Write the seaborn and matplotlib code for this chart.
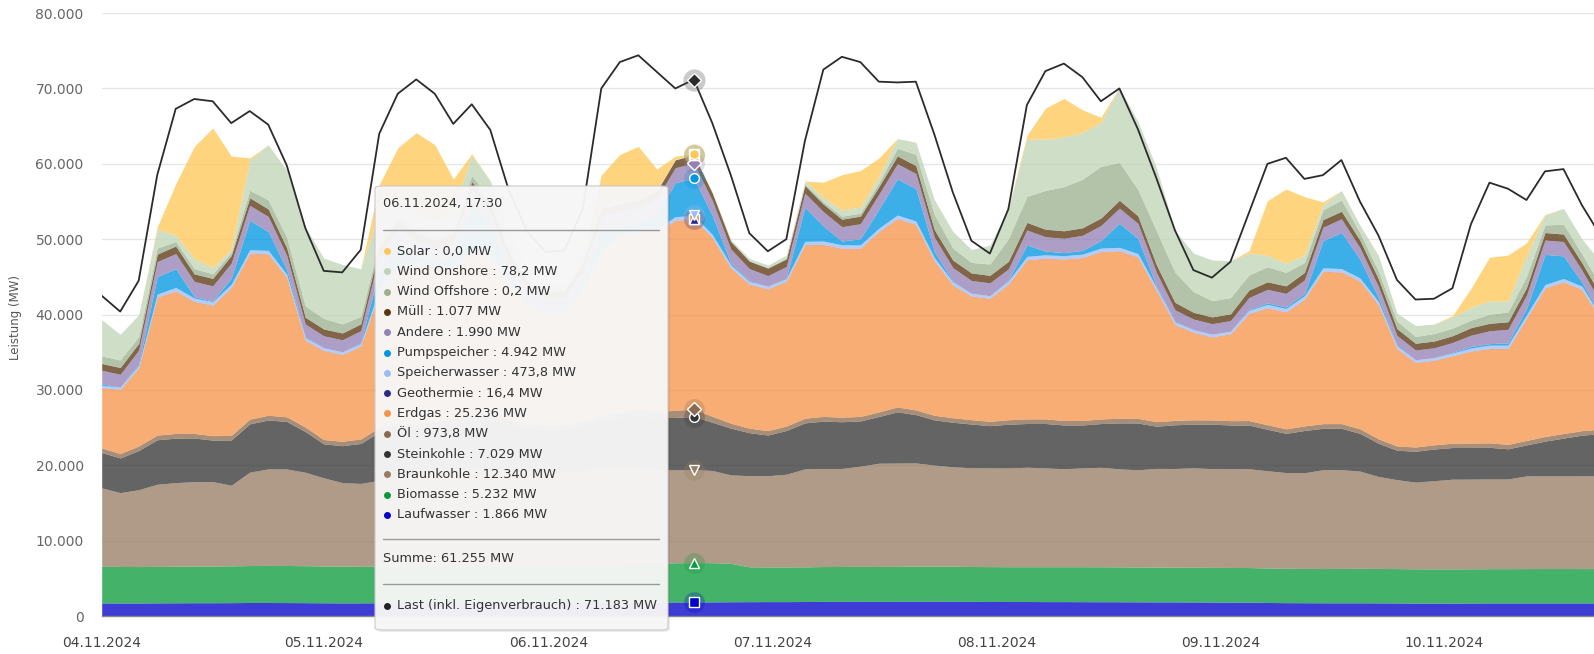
"""
Stromerzeugung und Last, 04.11.2024 - 10.11.2024 (gestapelte Flaechen + Lastkurve)
"""
import numpy as np
import pandas as pd
import matplotlib
matplotlib.use("Agg")
import matplotlib.pyplot as plt
import seaborn as sns
from matplotlib.patches import FancyBboxPatch
from matplotlib.lines import Line2D

sns.set_theme(style="white")
plt.rcParams['font.family'] = ['DejaVu Sans']

# Stunden seit 04.11.2024 00:00 (2h-Raster)
hours = list(range(2, 165, 2))

# Werte in 1.000 MW (GW), von unten nach oben gestapelt
laufwasser = [1.74, 1.73, 1.73, 1.75, 1.76, 1.77, 1.77, 1.78, 1.80, 1.80, 1.79, 1.78, 1.76, 1.75, 1.75,
              1.77, 1.78, 1.79, 1.80, 1.81, 1.82, 1.82, 1.80, 1.79, 1.78, 1.78, 1.80, 1.82, 1.84, 1.85,
              1.86, 1.87, 1.8664, 1.88, 1.90,
              1.91, 1.92, 1.92, 1.93, 1.95, 1.96, 1.96, 1.95, 1.96, 1.97, 1.98, 1.97, 1.95, 1.94,
              1.93, 1.93, 1.92, 1.92, 1.91, 1.90, 1.90, 1.89, 1.88, 1.88, 1.87, 1.86, 1.85, 1.84,
              1.80, 1.78, 1.77, 1.76, 1.76, 1.76, 1.75, 1.74, 1.72, 1.72, 1.72, 1.73, 1.74, 1.74,
              1.74, 1.74, 1.74, 1.74, 1.74]
biomasse = [4.86, 4.85, 4.84, 4.84, 4.85, 4.86, 4.87, 4.88, 4.90, 4.92, 4.92, 4.90, 4.88, 4.86, 4.85,
            4.85, 4.86, 4.87, 4.88, 4.90, 4.92, 4.93, 4.92, 4.90, 4.88, 4.87, 4.88, 4.90, 4.95, 5.05,
            5.15, 5.20, 5.232, 5.20, 5.10,
            4.62, 4.60, 4.60, 4.60, 4.62, 4.62, 4.63, 4.63, 4.64, 4.65, 4.65, 4.64, 4.63, 4.62,
            4.62, 4.62, 4.63, 4.63, 4.64, 4.64, 4.63, 4.62, 4.61, 4.60, 4.60, 4.60, 4.60, 4.60,
            4.58, 4.56, 4.55, 4.55, 4.56, 4.57, 4.57, 4.56, 4.55, 4.54, 4.54, 4.54, 4.55, 4.55,
            4.56, 4.57, 4.57, 4.56, 4.56]
braunkohle = [10.4, 9.8, 10.2, 10.9, 11.1, 11.2, 11.2, 10.7, 12.4, 12.8, 12.8, 12.4, 11.7, 11.1, 11.0,
              11.4, 11.9, 12.2, 12.4, 12.6, 12.8, 12.8, 12.7, 12.4, 12.4, 12.4, 12.6, 12.9, 13.0, 13.0,
              12.43, 12.33, 12.34, 12.23, 11.73,
              12.1, 12.1, 12.3, 13.0, 13.0, 13.0, 13.3, 13.7, 13.7, 13.7, 13.4, 13.2, 13.1, 13.1,
              13.1, 13.2, 13.1, 13.0, 13.1, 13.2, 13.0, 12.9, 13.1, 13.1, 13.2, 13.1, 13.1, 13.1,
              12.9, 12.7, 12.7, 13.1, 13.1, 12.9, 12.2, 11.8, 11.5, 11.7, 11.9, 11.9, 11.9, 11.9,
              12.3, 12.3, 12.3, 12.3, 12.3]
steinkohle = [4.7, 4.6, 5.2, 5.9, 5.9, 5.8, 5.5, 6.0, 6.4, 6.5, 6.3, 5.4, 4.5, 4.9, 5.3,
              6.4, 6.4, 6.1, 6.2, 6.2, 6.5, 6.5, 6.1, 5.9, 5.7, 5.7, 6.0, 6.4, 6.6, 6.8,
              6.9, 6.95, 7.029, 6.4, 6.2,
              5.7, 5.4, 5.8, 6.1, 6.3, 6.2, 6.0, 6.2, 6.8, 6.4, 6.0, 5.9, 5.8, 5.6,
              5.8, 5.8, 5.9, 5.8, 5.7, 5.8, 6.1, 6.2, 5.6, 5.8, 5.8, 5.9, 5.8, 5.8,
              5.5, 5.2, 5.6, 5.5, 5.5, 5.0, 4.4, 3.9, 4.1, 4.2, 4.2, 4.2, 4.2, 4.0,
              4.1, 4.6, 5.0, 5.4, 5.6]
oel = [0.60, 0.58, 0.60, 0.62, 0.62, 0.60, 0.60, 0.61, 0.63, 0.63, 0.62, 0.60, 0.58, 0.58, 0.60,
       0.62, 0.62, 0.61, 0.60, 0.61, 0.63, 0.63, 0.62, 0.60, 0.58, 0.58, 0.60, 0.62, 0.64, 0.70,
       0.80, 0.95, 0.9738, 0.80, 0.65,
       0.60, 0.58, 0.60, 0.62, 0.62, 0.61, 0.60, 0.62, 0.64, 0.63, 0.61, 0.60, 0.58, 0.58,
       0.60, 0.61, 0.61, 0.60, 0.60, 0.61, 0.62, 0.62, 0.60, 0.58, 0.57, 0.57, 0.58, 0.60,
       0.60, 0.60, 0.61, 0.62, 0.62, 0.61, 0.59, 0.57, 0.56, 0.56, 0.57, 0.58, 0.59, 0.59,
       0.60, 0.61, 0.61, 0.60, 0.59]
erdgas = [8.0, 8.5, 10.4, 18.3, 18.9, 17.5, 17.3, 19.6, 22.0, 21.4, 18.5, 11.5, 11.8, 11.5, 12.3,
          18.0, 20.5, 21.0, 20.2, 20.0, 21.5, 21.0, 18.0, 15.5, 14.7, 14.7, 17.2, 21.5, 23.2, 23.5,
          23.8, 25.2, 25.236, 23.7, 20.6,
          19.1, 18.8, 19.2, 23.0, 22.8, 22.4, 22.3, 23.9, 25.0, 24.6, 20.5, 17.6, 16.4, 16.3,
          18.0, 21.1, 21.3, 21.4, 21.6, 22.2, 22.2, 21.4, 17.4, 12.7, 11.6, 11.0, 11.5, 14.2,
          15.5, 15.5, 16.8, 20.2, 20.1, 19.6, 17.8, 12.9, 11.2, 11.2, 11.6, 12.2, 12.5, 12.7,
          16.2, 19.7, 20.1, 18.7, 14.6]
geothermie = [0.016, 0.016, 0.016, 0.016, 0.016, 0.016, 0.016, 0.016, 0.016, 0.016, 0.016, 0.016,
              0.016, 0.016, 0.016, 0.016, 0.016, 0.016, 0.016, 0.016, 0.016, 0.016, 0.016, 0.016,
              0.016, 0.016, 0.016, 0.016, 0.016, 0.016, 0.016, 0.016, 0.0164, 0.016, 0.016, 0.016,
              0.016, 0.016, 0.016, 0.016, 0.016, 0.016, 0.016, 0.016, 0.016, 0.016, 0.016, 0.016,
              0.016, 0.016, 0.016, 0.016, 0.016, 0.016, 0.016, 0.016, 0.016, 0.016, 0.016, 0.016,
              0.016, 0.016, 0.016, 0.016, 0.016, 0.016, 0.016, 0.016, 0.016, 0.016, 0.016, 0.016,
              0.016, 0.016, 0.016, 0.016, 0.016, 0.016, 0.016, 0.016, 0.016, 0.016]
speicherwasser = [0.30, 0.30, 0.30, 0.40, 0.45, 0.45, 0.45, 0.45, 0.45, 0.45, 0.40, 0.35, 0.35, 0.35, 0.35,
                  0.40, 0.45, 0.45, 0.45, 0.45, 0.45, 0.45, 0.40, 0.35, 0.35, 0.35, 0.40, 0.45, 0.45, 0.45,
                  0.45, 0.47, 0.4738, 0.40, 0.40,
                  0.35, 0.35, 0.35, 0.45, 0.45, 0.45, 0.45, 0.45, 0.45, 0.45, 0.40, 0.40, 0.35, 0.35,
                  0.40, 0.45, 0.45, 0.45, 0.45, 0.45, 0.45, 0.45, 0.40, 0.35, 0.35, 0.35, 0.35, 0.40,
                  0.45, 0.45, 0.45, 0.45, 0.45, 0.40, 0.40, 0.35, 0.35, 0.35, 0.35, 0.40, 0.45, 0.45,
                  0.45, 0.45, 0.45, 0.45, 0.40]
pumpspeicher = [0.2, 0.0, 0.2, 2.3, 2.5, 0.2, 0.1, 0.8, 3.9, 2.5, 0.6, 0.1, 0.0, 0.0, 0.1,
                2.5, 3.0, 0.8, 0.3, 1.2, 6.0, 3.5, 0.8, 0.2, 0.1, 0.1, 0.5, 2.5, 1.0, 0.8,
                2.0, 4.5, 4.942, 2.5, 0.2,
                0.1, 0.0, 0.1, 4.5, 2.0, 0.5, 0.8, 2.5, 4.8, 4.3, 0.8, 0.1, 0.0, 0.0,
                0.1, 1.5, 0.5, 0.4, 0.5, 1.0, 3.2, 2.0, 0.2, 0.1, 0.0, 0.0, 0.0, 0.1,
                0.2, 0.2, 0.3, 3.6, 4.8, 2.5, 0.5, 0.1, 0.0, 0.0, 0.1, 0.2, 0.2, 0.3,
                0.8, 4.0, 3.0, 0.5, 0.2]
andere = [1.8, 1.7, 1.8, 2.0, 2.0, 2.0, 2.0, 2.0, 2.0, 2.0, 1.9, 1.7, 1.6, 1.6, 1.6,
          2.0, 2.0, 2.0, 2.0, 2.0, 2.0, 2.0, 1.9, 1.8, 1.7, 1.7, 1.9, 2.0, 2.0, 2.0,
          2.0, 2.0, 1.99, 2.0, 1.9,
          1.6, 1.4, 1.5, 1.9, 1.9, 1.9, 2.0, 2.0, 2.0, 2.0, 1.9, 1.8, 1.7, 1.7,
          1.5, 2.0, 1.9, 1.9, 2.0, 2.0, 2.0, 2.0, 1.8, 1.5, 1.4, 1.4, 1.4, 1.6,
          1.8, 1.8, 1.8, 1.8, 1.8, 1.5, 1.5, 1.3, 1.3, 1.3, 1.3, 1.5, 1.7, 1.8,
          1.8, 1.9, 1.9, 1.6, 1.6]
muell = [0.9, 0.9, 0.9, 1.0, 1.0, 1.0, 1.0, 1.0, 1.0, 1.0, 1.0, 0.9, 0.9, 0.9, 0.9,
         1.0, 1.0, 1.0, 1.0, 1.0, 1.0, 1.0, 1.0, 0.9, 0.9, 0.9, 1.0, 1.0, 1.0, 1.0,
         1.0, 1.05, 1.077, 1.0, 1.0,
         1.0, 1.0, 1.0, 1.0, 1.0, 1.0, 1.0, 1.0, 1.05, 1.05, 1.0, 1.0, 1.0, 1.0,
         1.0, 1.0, 1.0, 1.0, 1.0, 1.0, 1.05, 1.0, 1.0, 1.0, 0.9, 0.9, 0.9, 1.0,
         1.0, 1.0, 1.0, 1.0, 1.0, 1.0, 1.0, 0.9, 0.9, 0.9, 0.9, 1.0, 1.0, 1.0,
         1.0, 1.0, 1.0, 1.0, 1.0]
wind_offshore = [1.0, 1.0, 0.9, 0.8, 0.6, 0.7, 0.6, 0.4, 1.0, 1.2, 1.4, 1.5, 1.4, 1.2, 1.0,
                 0.8, 0.6, 0.5, 0.5, 0.5, 0.8, 0.6, 0.5, 0.3, 0.2, 0.1, 0.1, 0.1, 0.05, 0.05,
                 0.0, 0.0, 0.0002, 0.0, 0.05,
                 0.05, 0.1, 0.1, 0.2, 0.3, 0.4, 0.4, 0.5, 1.0, 1.5, 2.0, 1.6, 1.4, 1.5,
                 3.0, 3.45, 5.15, 5.85, 6.45, 6.85, 5.0, 3.5, 4.5, 4.0, 2.75, 2.15, 2.15, 2.0,
                 2.0, 1.8, 1.3, 1.3, 1.5, 1.0, 1.0, 1.0, 0.9, 1.0, 1.0, 1.0, 1.2, 1.3,
                 1.5, 1.0, 1.3, 1.2, 1.2]
wind_onshore = [4.8, 3.4, 2.9, 2.5, 0.85, 1.3, 0.85, 0.4, 4.0, 7.3, 8.9, 10.5, 8.0, 7.9, 6.3,
                4.0, 2.5, 2.0, 2.0, 2.5, 2.7, 2.5, 2.0, 1.5, 1.0, 0.6, 0.4, 0.3, 0.2, 0.1,
                0.1, 0.08, 0.0782, 0.1, 0.2,
                0.3, 0.3, 0.4, 0.4, 0.6, 0.8, 0.8, 0.8, 1.3, 1.6, 2.0, 2.2, 1.7, 2.5,
                4.0, 7.6, 6.8, 6.6, 6.2, 5.8, 10.0, 9.0, 8.4, 5.5, 5.1, 5.4, 4.9, 2.9,
                1.5, 1.2, 1.0, 0.65, 1.25, 1.0, 2.1, 1.05, 1.45, 1.25, 1.45, 1.7, 1.75, 1.45,
                2.75, 1.3, 2.1, 1.95, 3.2]
solar = [0.0, 0.0, 0.0, 0.3, 6.8, 14.9, 18.5, 12.4, 0.3, 0.0, 0.0, 0.0, 0.0, 0.0, 0.0,
         3.5, 6.5, 10.8, 10.2, 4.2, 0.2, 0.0, 0.0, 0.0, 0.0, 0.0, 0.5, 4.0, 6.3, 7.0,
         2.8, 0.4, 0.0, 0.0, 0.0,
         0.0, 0.0, 0.0, 0.0, 2.0, 4.7, 4.85, 2.5, 0.0, 0.0, 0.0, 0.0, 0.0, 0.0,
         0.0, 0.5, 4.1, 5.1, 3.0, 0.7, 0.0, 0.0, 0.0, 0.0, 0.0, 0.0, 0.0, 0.3,
         7.25, 9.85, 7.75, 0.4, 0.0, 0.0, 0.0, 0.0, 0.0, 0.0, 0.2, 2.5, 5.8, 6.1,
         1.7, 0.1, 0.0, 0.0, 0.0]
last = [42.5, 40.4, 44.5, 58.5, 67.3, 68.6, 68.3, 65.4, 67.0, 65.2, 59.8, 51.5, 45.8, 45.6, 48.6,
        64.0, 69.3, 71.2, 69.3, 65.3, 67.9, 64.5, 56.5, 51.0, 48.3, 48.5, 54.0, 70.0, 73.5, 74.4,
        72.2, 70.0, 71.183, 65.4, 58.5,
        50.8, 48.4, 50.0, 63.0, 72.5, 74.2, 73.5, 70.9, 70.8, 70.9, 63.9, 56.2, 49.8, 48.1,
        54.0, 67.8, 72.3, 73.3, 71.5, 68.3, 70.0, 64.6, 58.1, 51.2, 45.9, 44.9, 47.0, 53.5,
        60.0, 60.8, 58.0, 58.5, 60.5, 55.0, 50.5, 44.6, 42.0, 42.1, 43.5, 52.0, 57.5, 56.7,
        55.2, 59.0, 59.3, 54.5, 50.5]

names = ['Laufwasser', 'Biomasse', 'Braunkohle', 'Steinkohle', 'Öl', 'Erdgas', 'Geothermie',
         'Speicherwasser', 'Pumpspeicher', 'Andere', 'Müll', 'Wind Offshore', 'Wind Onshore', 'Solar']
series = [laufwasser, biomasse, braunkohle, steinkohle, oel, erdgas, geothermie,
          speicherwasser, pumpspeicher, andere, muell, wind_offshore, wind_onshore, solar]
colors = ['#0000c8', '#0a9a3a', '#967c62', '#333333', '#8b6b4f', '#f79348', '#2b2b8c',
          '#9bbcf8', '#0096e1', '#9480b6', '#5a3510', '#9bb08e', '#bfd4b6', '#fec856']
symbols = ['s', '^', 'v', 'o', 'D', 's', '^', 'v', 'o', 'D', 's', '^', 'v', 'o']

df = pd.DataFrame(dict(zip(names, series)), index=hours) * 1000
df['Last'] = np.array(last) * 1000

hover = 32          # 06.11.2024, 17:30
hover_label = '06.11.2024, 17:30'

fig = plt.figure(figsize=(15.94, 6.54), dpi=100)
ax = fig.add_axes([0.0638, 0.058, 0.9362, 0.922])

ax.stackplot(df.index, [df[n] for n in names], colors=colors, alpha=0.76,
             linewidth=0, zorder=2)
sns.lineplot(x=df.index, y=df['Last'], color='#2b2b2b', lw=1.3, ax=ax, zorder=5)

# Hover-Marker
tops = df[names].cumsum(axis=1).iloc[hover]
hx = df.index[hover]
for n, c, m in zip(names, colors, symbols):
    ax.plot(hx, tops[n], marker='o', ms=15, color=c, alpha=0.25, mew=0, zorder=6)
    ax.plot(hx, tops[n], marker=m, ms=7, color=c, mec='white', mew=1, zorder=7)
ax.plot(hx, df['Last'].iloc[hover], marker='o', ms=16, color='#555555', alpha=0.3, mew=0, zorder=6)
ax.plot(hx, df['Last'].iloc[hover], marker='D', ms=7, color='#2b2b2b', mec='white', mew=1, zorder=7)

ax.set_xlim(2, 163.3)
ax.set_ylim(0, 80000)
ax.set_yticks(range(0, 80001, 10000))
ax.set_yticklabels([f"{v:,}".replace(',', '.') for v in range(0, 80001, 10000)])
ax.set_xticks([2, 26, 50.35, 74.5, 98.7, 122.9, 147.05])
ax.set_xticklabels(['04.11.2024', '05.11.2024', '06.11.2024', '07.11.2024',
                    '08.11.2024', '09.11.2024', '10.11.2024'])
ax.tick_params(axis='y', length=0, pad=13, labelsize=10, labelcolor='#666666')
ax.tick_params(axis='x', length=0, pad=14, labelsize=10, labelcolor='#444444')
ax.grid(axis='y', color='#e6e6e6', lw=1)
ax.set_axisbelow(True)
ax.set_xlabel('')
ax.set_ylabel('')
for s in ['top', 'right', 'left']:
    ax.spines[s].set_visible(False)
ax.spines['bottom'].set_color('#888888')
ax.spines['bottom'].set_linewidth(1)

fig.text(0.0095, 0.514, 'Leistung (MW)', rotation=90, ha='center', va='center',
         fontsize=8.5, color='#555555')


# Tooltip
def fx(px):
    return px / 1594


def fy(py):
    return 1 - py / 654


def fmt_mw(v):
    if v < 1000:
        return f"{v:.1f}".replace('.', ',') + ' MW'
    return f"{int(round(v)):,}".replace(',', '.') + ' MW'


bx0, by0, bw, bh = 375, 186, 293, 444
shadow = FancyBboxPatch((fx(bx0 + 2), fy(by0 + bh + 2)), fx(bw), bh / 654,
                        boxstyle='round,pad=0,rounding_size=0.004', transform=fig.transFigure,
                        fc='#000000', ec='none', alpha=0.08, zorder=10)
box = FancyBboxPatch((fx(bx0), fy(by0 + bh)), fx(bw), bh / 654,
                     boxstyle='round,pad=0,rounding_size=0.004', transform=fig.transFigure,
                     fc='#f7f7f7', ec='#c8c8c8', lw=0.8, alpha=0.96, zorder=11)
fig.patches.extend([shadow, box])

txt = dict(fontsize=9.3, color='#333333', va='center', ha='left', zorder=12)
fig.text(fx(383), fy(204), hover_label, **txt)
for yy in [230, 539, 584]:
    fig.add_artist(Line2D([fx(383), fx(659)], [fy(yy), fy(yy)], color='#9a9a9a', lw=1,
                          transform=fig.transFigure, zorder=12))

row = df.iloc[hover]
for i, (n, c) in enumerate(zip(names[::-1], colors[::-1])):
    yy = 251 + i * 20.3
    fig.add_artist(Line2D([fx(387)], [fy(yy)], marker='o', ms=5, color=c, mew=0,
                          transform=fig.transFigure, zorder=12))
    fig.text(fx(397), fy(yy), f"{n} : {fmt_mw(row[n])}", **txt)

summe = row[names].sum()
fig.text(fx(383), fy(558), f"Summe: {fmt_mw(summe)}", **txt)
fig.add_artist(Line2D([fx(387)], [fy(606)], marker='o', ms=5, color='#222222', mew=0,
                      transform=fig.transFigure, zorder=12))
fig.text(fx(397), fy(606), f"Last (inkl. Eigenverbrauch) : {fmt_mw(row['Last'])}", **txt)

fig.savefig('out.png', dpi=100)
